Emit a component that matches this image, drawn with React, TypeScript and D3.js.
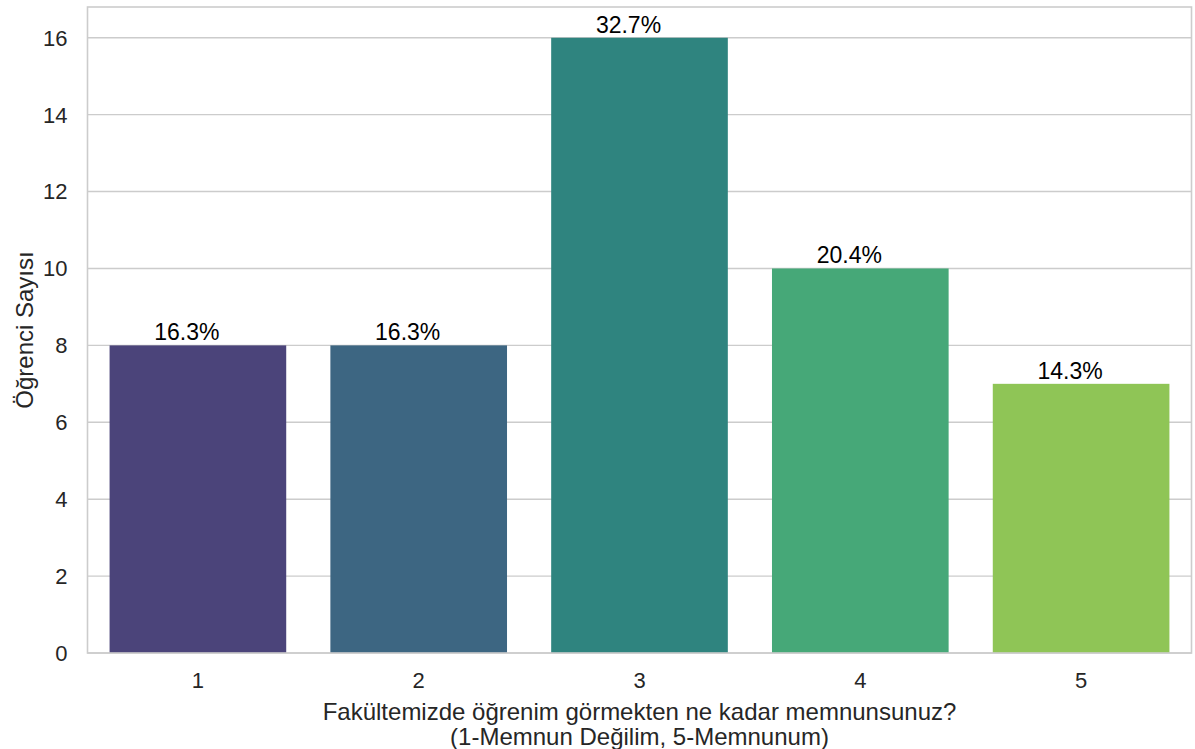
import React from "react";
import * as d3 from "d3";

const categories = ["1", "2", "3", "4", "5"];
const counts = [8, 8, 16, 10, 7];
const percentLabels = ["16.3%", "16.3%", "32.7%", "20.4%", "14.3%"];
const barColors = ["#4b447a", "#3d6682", "#2f847f", "#46a878", "#8fc556"];
const yTicks = [0, 2, 4, 6, 8, 10, 12, 14, 16];

const W = 1195;
const H = 749;
const margin = { left: 87.5, right: 3.5, top: 7, bottom: 96 };

export default function App() {
  const x = d3
    .scaleBand<string>()
    .domain(categories)
    .range([margin.left, W - margin.right])
    .paddingInner(0.2)
    .paddingOuter(0.1);
  const y = d3
    .scaleLinear()
    .domain([0, 16.8])
    .range([H - margin.bottom, margin.top]);
  const font = "'Liberation Sans', Arial, sans-serif";
  const plotL = margin.left;
  const plotR = W - margin.right;
  const plotT = margin.top;
  const plotB = H - margin.bottom;
  return (
    <svg
      width={W}
      height={H}
      style={{ position: "absolute", left: 0, top: 0, background: "#fff" }}
      fontFamily={font}
    >
      {yTicks.map((t) => (
        <g key={t}>
          <line x1={plotL} x2={plotR} y1={y(t)} y2={y(t)} stroke="#cccccc" strokeWidth={1.4} />
          <text x={plotL - 20} y={y(t)} dy="0.36em" textAnchor="end" fontSize={22} fill="#262626">
            {t}
          </text>
        </g>
      ))}
      {categories.map((c, i) => (
        <g key={c}>
          <rect
            x={x(c)!}
            y={y(counts[i])}
            width={x.bandwidth()}
            height={y(0) - y(counts[i])}
            fill={barColors[i]}
          />
          <text
            x={x(c)! + x.bandwidth() / 2 - 11}
            y={y(counts[i]) - 5}
            textAnchor="middle"
            fontSize={23}
            fill="#000"
          >
            {percentLabels[i]}
          </text>
          <text
            x={x(c)! + x.bandwidth() / 2}
            y={688}
            textAnchor="middle"
            fontSize={22}
            fill="#262626"
          >
            {c}
          </text>
        </g>
      ))}
      <rect
        x={plotL}
        y={plotT}
        width={plotR - plotL}
        height={plotB - plotT}
        fill="none"
        stroke="#cccccc"
        strokeWidth={1.6}
      />
      <text
        transform={`translate(33, ${(plotT + plotB) / 2}) rotate(-90)`}
        textAnchor="middle"
        fontSize={24}
        fill="#262626"
      >
        Öğrenci Sayısı
      </text>
      <text x={(plotL + plotR) / 2} y={720} textAnchor="middle" fontSize={24} fill="#262626">
        Fakültemizde öğrenim görmekten ne kadar memnunsunuz?
      </text>
      <text x={(plotL + plotR) / 2} y={745} textAnchor="middle" fontSize={24} fill="#262626">
        (1-Memnun Değilim, 5-Memnunum)
      </text>
    </svg>
  );
}
